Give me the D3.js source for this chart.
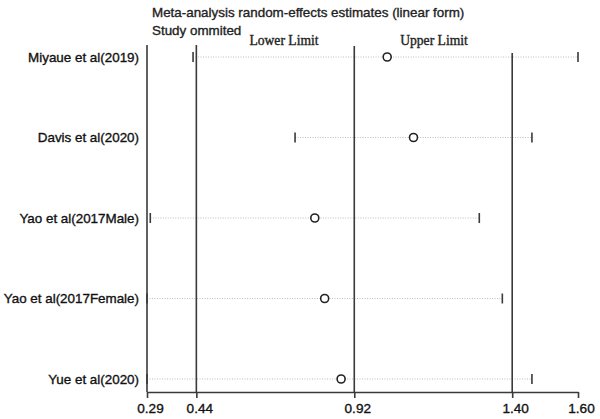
<!DOCTYPE html>
<html><head><meta charset="utf-8">
<script src="https://cdn.jsdelivr.net/npm/d3@7"></script>
<style>body{margin:0;background:#fff}svg{display:block}</style>
</head><body>
<svg id="c" width="600" height="419"></svg>
<script>
const studies = ["Miyaue et al(2019)", "Davis et al(2020)", "Yao et al(2017Male)", "Yao et al(2017Female)", "Yue et al(2020)"];
const estimates = [1.02, 1.10, 0.80, 0.83, 0.88];
const lowerCI = [0.43, 0.74, 0.30, 0.29, 0.29];
const upperCI = [1.60, 1.46, 1.30, 1.37, 1.46];
const refValues = [0.29, 0.44, 0.92, 1.40];
const tickValues = [0.29, 0.44, 0.92, 1.40, 1.60];
const title1 = "Meta-analysis random-effects estimates (linear form)";
const title2 = "Study ommited";

const svg = d3.select("#c");
const x = d3.scaleLinear().domain([0.29, 1.60]).range([147, 578]);
const y = d3.scalePoint().domain(studies).range([57, 379]);
const axisY = 392;
const refTops = [45, 45, 46, 53];
const ink = "#3a3a3a";
const sans = "Liberation Sans, Arial, sans-serif";
const serif = "Liberation Serif, Times New Roman, serif";

function thicken(sel, c) { return sel.attr("stroke", c).attr("stroke-width", 0.35).attr("paint-order", "stroke"); }

// titles
thicken(svg.append("text").attr("x", 152).attr("y", 17).text(title1)
  .attr("font-family", sans).attr("font-size", 13.4).attr("fill", "#222"), "#222");
thicken(svg.append("text").attr("x", 152).attr("y", 35).text(title2)
  .attr("font-family", sans).attr("font-size", 13.4).attr("fill", "#222"), "#222");

// Lower / Upper limit captions
thicken(svg.append("text").attr("x", 284).attr("y", 45).attr("text-anchor", "middle").text("Lower Limit")
  .attr("font-family", serif).attr("font-size", 13.6).attr("fill", "#222"), "#222");
thicken(svg.append("text").attr("x", 434).attr("y", 45).attr("text-anchor", "middle").text("Upper Limit")
  .attr("font-family", serif).attr("font-size", 13.6).attr("fill", "#222"), "#222");

// dotted CI lines
svg.selectAll(".ci").data(studies).join("line")
  .attr("x1", (d, i) => x(lowerCI[i])).attr("x2", (d, i) => x(upperCI[i]))
  .attr("y1", d => y(d)).attr("y2", d => y(d))
  .attr("stroke", "#bdbdbd").attr("stroke-width", 1.2).attr("stroke-dasharray", "1,1.5");

// reference vertical lines
svg.selectAll(".ref").data(refValues).join("line")
  .attr("x1", d => x(d)).attr("x2", d => x(d))
  .attr("y1", (d, i) => refTops[i]).attr("y2", axisY)
  .attr("stroke", ink).attr("stroke-width", 1.6);

// CI end bars
const barH = 5;
svg.selectAll(".lo").data(studies).join("line")
  .attr("x1", (d, i) => x(lowerCI[i])).attr("x2", (d, i) => x(lowerCI[i]))
  .attr("y1", d => y(d) - barH).attr("y2", d => y(d) + barH)
  .attr("stroke", ink).attr("stroke-width", 1.6);
svg.selectAll(".hi").data(studies).join("line")
  .attr("x1", (d, i) => x(upperCI[i])).attr("x2", (d, i) => x(upperCI[i]))
  .attr("y1", d => y(d) - barH).attr("y2", d => y(d) + barH)
  .attr("stroke", ink).attr("stroke-width", 1.6);

// estimates
svg.selectAll(".pt").data(studies).join("circle")
  .attr("cx", (d, i) => x(estimates[i])).attr("cy", d => y(d)).attr("r", 4)
  .attr("fill", "#fff").attr("stroke", "#222").attr("stroke-width", 1.6);

// study labels
thicken(svg.selectAll(".lab").data(studies).join("text")
  .attr("x", 139).attr("y", d => y(d)).attr("dy", "0.35em").attr("text-anchor", "end")
  .text(d => d)
  .attr("font-family", sans).attr("font-size", 13.4).attr("fill", "#111"), "#111");

// x axis
const ax = svg.append("g").attr("transform", `translate(0,${axisY})`)
  .call(d3.axisBottom(x).tickValues(tickValues).tickFormat(d3.format(".2f")).tickSize(6).tickSizeOuter(0));
ax.select(".domain").attr("stroke", ink).attr("stroke-width", 1.6);
ax.selectAll(".tick line").attr("stroke", ink).attr("stroke-width", 1.6);
thicken(ax.selectAll(".tick text").attr("font-family", sans).attr("font-size", 13.6)
  .attr("fill", "#111").attr("dy", "0.85em").attr("dx", 3), "#111");
</script>
</body></html>
